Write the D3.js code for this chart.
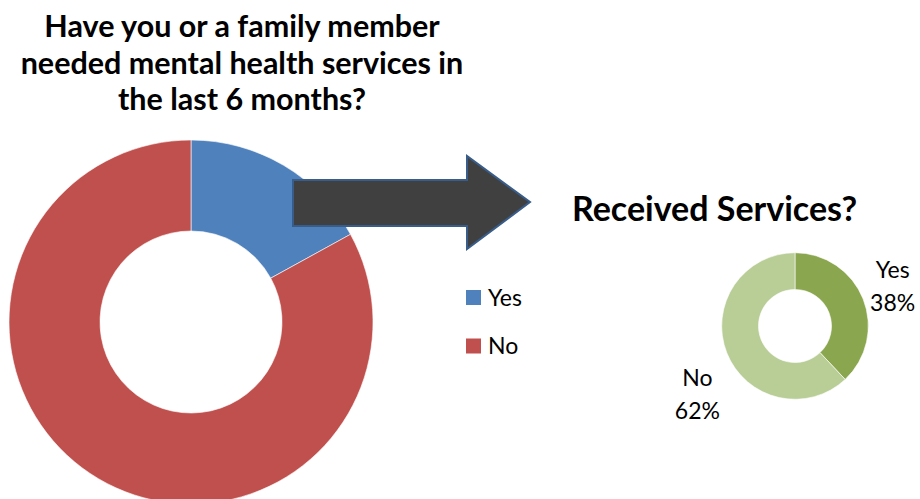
<!DOCTYPE html>
<html>
<head>
<meta charset="utf-8">
<script src="https://cdn.jsdelivr.net/npm/d3@7"></script>
<style>
  html, body { margin: 0; padding: 0; background: #ffffff; }
  svg { display: block; }
  text { font-family: Lato, "Open Sans", "Liberation Sans", sans-serif; fill: #000; }
</style>
</head>
<body>
<svg id="chart" width="920" height="499"></svg>
<script>
// ---- data ----
const titleLines = ["Have you or a family member", "needed mental health services in", "the last 6 months?"];
const needCategories = ["Yes", "No"];
const needValues = [17, 83];
const receivedTitle = "Received Services?";
const receivedCategories = ["Yes", "No"];
const receivedValues = [38, 62];

// ---- styles ----
const needColors = d3.scaleOrdinal().domain(needCategories).range(["#4f81bd", "#c0504d"]);
const receivedColors = d3.scaleOrdinal().domain(receivedCategories).range(["#8aa64e", "#b9ce96"]);

const svg = d3.select("#chart");
const pie = d3.pie().sort(null).value(d => d.value);

// ---- big donut ----
const big = svg.append("g").attr("transform", "translate(191,322)");
const bigArc = d3.arc().innerRadius(91).outerRadius(182);
big.selectAll("path")
  .data(pie(needCategories.map((c, i) => ({ cat: c, value: needValues[i] }))))
  .join("path")
  .attr("d", bigArc)
  .attr("fill", d => needColors(d.data.cat))
  .attr("stroke", "#ffffff")
  .attr("stroke-width", 0.6);

// ---- title ----
const title = svg.append("text")
  .attr("text-anchor", "middle")
  .attr("font-weight", "bold")
  .attr("font-size", 30.5);
titleLines.forEach((t, i) => {
  title.append("tspan").attr("x", 242).attr("y", 37 + i * 36.5).text(t);
});

// ---- legend ----
const legend = svg.append("g").attr("transform", "translate(466,290)");
const legItems = legend.selectAll("g").data(needCategories).join("g")
  .attr("transform", (d, i) => `translate(0,${i * 48.5})`);
legItems.append("rect").attr("width", 15).attr("height", 15).attr("fill", d => needColors(d));
legItems.append("text").attr("x", 22).attr("y", 15.5).attr("font-size", 23).text(d => d);

// ---- arrow (annotation) ----
const arrowPts = [[293,180],[467,180],[467,156],[530,202],[467,249],[467,226],[293,226]];
svg.append("path")
  .attr("d", d3.line()(arrowPts) + "Z")
  .attr("fill", "#404040")
  .attr("stroke", "#385d8a")
  .attr("stroke-width", 2)
  .attr("stroke-linejoin", "miter");

// ---- received title ----
svg.append("text")
  .attr("x", 714.5).attr("y", 221)
  .attr("text-anchor", "middle")
  .attr("font-weight", "bold")
  .attr("font-size", 34)
  .text(receivedTitle);

// ---- small donut ----
const cx = 795, cy = 326;
const small = svg.append("g").attr("transform", `translate(${cx},${cy})`);
const smallArc = d3.arc().innerRadius(36.5).outerRadius(73.3);
const labelArc = d3.arc().innerRadius(105).outerRadius(105);
const smallData = pie(receivedCategories.map((c, i) => ({ cat: c, value: receivedValues[i] })));
small.selectAll("path")
  .data(smallData)
  .join("path")
  .attr("d", smallArc)
  .attr("fill", d => receivedColors(d.data.cat))
  .attr("stroke", "#ffffff")
  .attr("stroke-width", 0.6);

const total = d3.sum(receivedValues);
const labels = small.selectAll("text.lbl").data(smallData).join("text")
  .attr("class", "lbl")
  .attr("text-anchor", "middle")
  .attr("font-size", 23)
  .attr("transform", d => {
    const [x, y] = labelArc.centroid(d);
    // shift lower-left label downward like the reference
    const dy = y > 0 ? 25 : -5;
    return `translate(${x},${y + dy})`;
  });
labels.append("tspan").attr("x", 0).attr("dy", -4).text(d => d.data.cat);
labels.append("tspan").attr("x", 0).attr("dy", 33)
  .text(d => Math.round(d.data.value / total * 100) + "%");
</script>
</body>
</html>
